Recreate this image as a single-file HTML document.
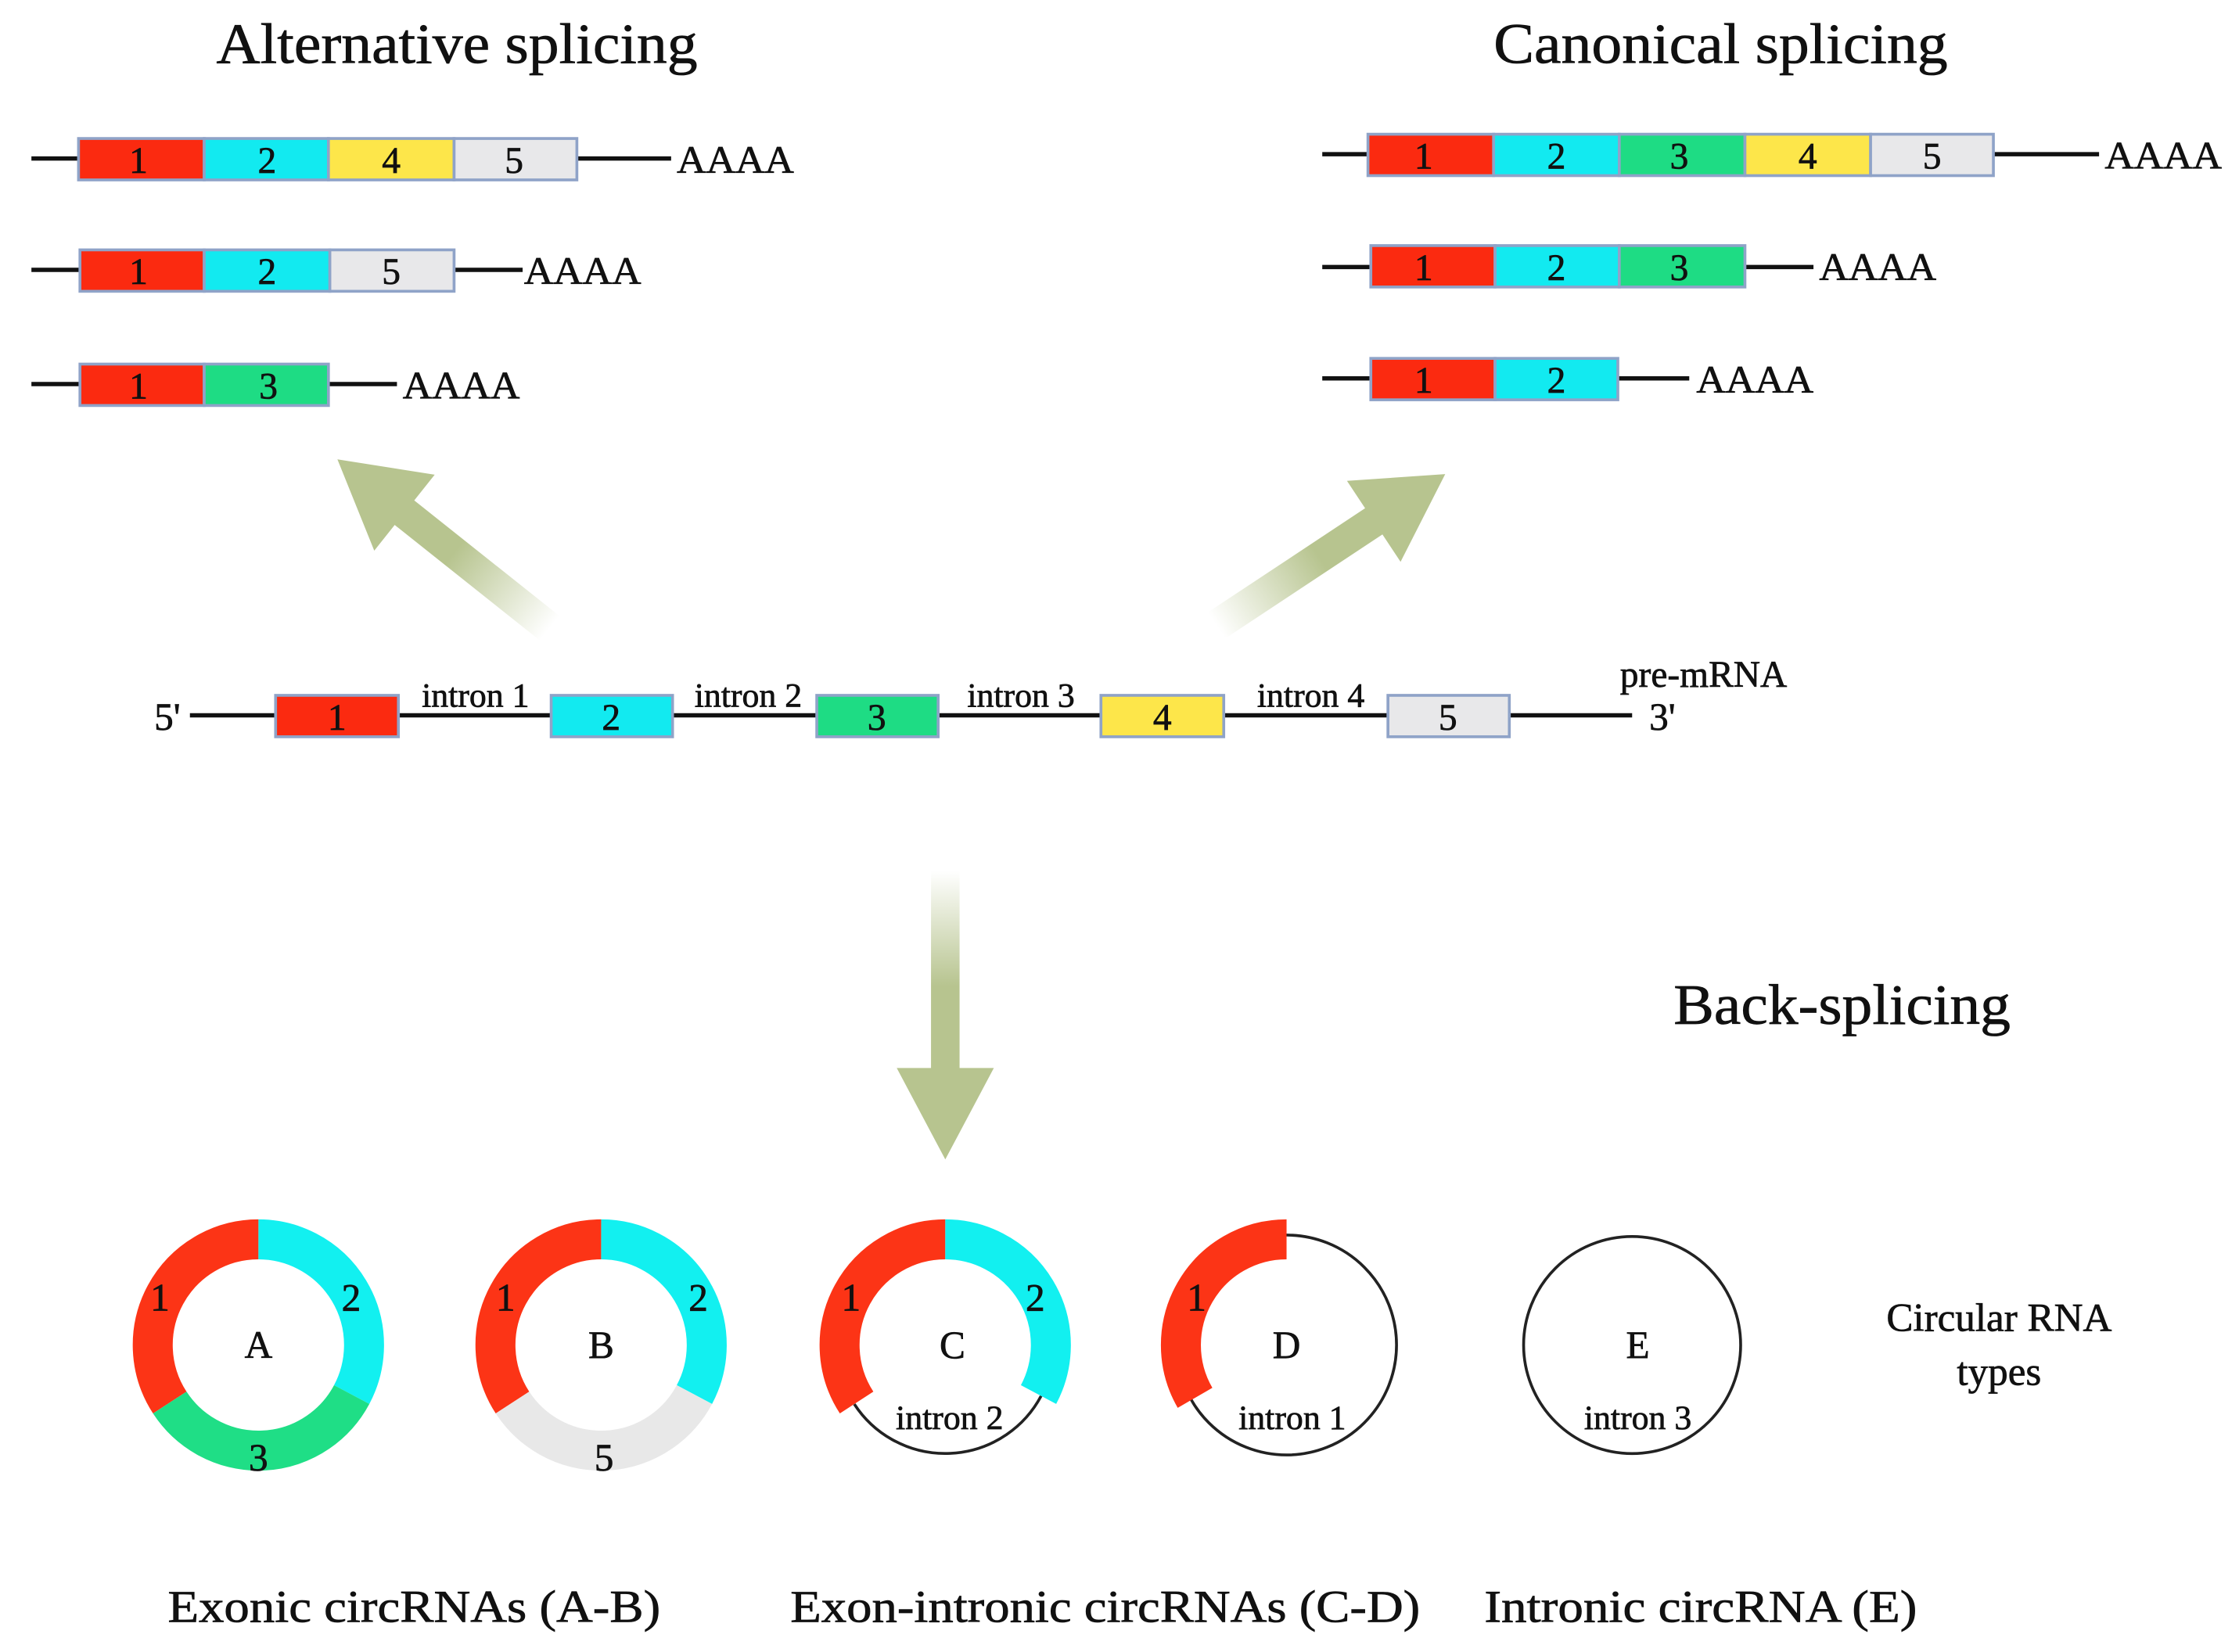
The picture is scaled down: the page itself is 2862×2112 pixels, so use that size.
<!DOCTYPE html>
<html><head><meta charset="utf-8"><style>
html,body{margin:0;padding:0;background:#fff}
svg{display:block}
text{font-family:"Liberation Serif",serif;fill:#111;stroke:#111;stroke-width:0.4}
</style></head><body>
<svg width="2862" height="2112" viewBox="0 0 1568 1157" preserveAspectRatio="none" xmlns="http://www.w3.org/2000/svg">
<defs>
<linearGradient id="ga" x1="0" y1="0" x2="1" y2="0">
<stop offset="0" stop-color="#b7c48f" stop-opacity="0"/>
<stop offset="0.45" stop-color="#b7c48f" stop-opacity="1"/>
<stop offset="1" stop-color="#b7c48f"/>
</linearGradient>
<linearGradient id="gd" x1="0" y1="0" x2="0" y2="1">
<stop offset="0" stop-color="#b7c48f" stop-opacity="0"/>
<stop offset="0.4" stop-color="#b7c48f" stop-opacity="1"/>
<stop offset="1" stop-color="#b7c48f"/>
</linearGradient>
</defs>
<rect width="1568" height="1157" fill="#fff"/>

<text x="320" y="44" font-size="40" text-anchor="middle" textLength="337" lengthAdjust="spacingAndGlyphs">Alternative splicing</text>
<text x="1205" y="44" font-size="40" text-anchor="middle" textLength="318" lengthAdjust="spacingAndGlyphs">Canonical splicing</text>
<text x="1290" y="717" font-size="40" text-anchor="middle" textLength="236" lengthAdjust="spacingAndGlyphs">Back-splicing</text>

<g stroke="#111" stroke-width="3">
<line x1="22" y1="111" x2="55" y2="111"/><line x1="404" y1="111" x2="470" y2="111"/>
<line x1="22" y1="189" x2="56" y2="189"/><line x1="318" y1="189" x2="366" y2="189"/>
<line x1="22" y1="269" x2="56" y2="269"/><line x1="230" y1="269" x2="278" y2="269"/>
<line x1="926" y1="108" x2="958" y2="108"/><line x1="1396" y1="108" x2="1470" y2="108"/>
<line x1="926" y1="187" x2="960" y2="187"/><line x1="1222" y1="187" x2="1270" y2="187"/>
<line x1="926" y1="265" x2="960" y2="265"/><line x1="1133" y1="265" x2="1183" y2="265"/>
<line x1="133" y1="501" x2="1143" y2="501"/>
</g>

<g stroke="#8fa3c8" stroke-width="2">
<rect x="55" y="97" width="88" height="29" fill="#fb2a10"/>
<rect x="143" y="97" width="87" height="29" fill="#12eaf0"/>
<rect x="230" y="97" width="88" height="29" fill="#fde64a"/>
<rect x="318" y="97" width="86" height="29" fill="#e8e8ea"/>
<rect x="56" y="175" width="87" height="29" fill="#fb2a10"/>
<rect x="143" y="175" width="88" height="29" fill="#12eaf0"/>
<rect x="231" y="175" width="87" height="29" fill="#e8e8ea"/>
<rect x="56" y="255" width="87" height="29" fill="#fb2a10"/>
<rect x="143" y="255" width="87" height="29" fill="#1edc84"/>
<rect x="958" y="94" width="88" height="29" fill="#fb2a10"/>
<rect x="1046" y="94" width="88" height="29" fill="#12eaf0"/>
<rect x="1134" y="94" width="88" height="29" fill="#1edc84"/>
<rect x="1222" y="94" width="88" height="29" fill="#fde64a"/>
<rect x="1310" y="94" width="86" height="29" fill="#e8e8ea"/>
<rect x="960" y="172" width="87" height="29" fill="#fb2a10"/>
<rect x="1047" y="172" width="87" height="29" fill="#12eaf0"/>
<rect x="1134" y="172" width="88" height="29" fill="#1edc84"/>
<rect x="960" y="251" width="87" height="29" fill="#fb2a10"/>
<rect x="1047" y="251" width="86" height="29" fill="#12eaf0"/>
<rect x="193" y="487" width="86" height="29" fill="#fb2a10"/>
<rect x="386" y="487" width="85" height="29" fill="#12eaf0"/>
<rect x="572" y="487" width="85" height="29" fill="#1edc84"/>
<rect x="771" y="487" width="86" height="29" fill="#fde64a"/>
<rect x="972" y="487" width="85" height="29" fill="#e8e8ea"/>
</g>

<g font-size="26" text-anchor="middle">
<text x="97" y="121">1</text><text x="187" y="121">2</text><text x="274" y="121">4</text><text x="360" y="121">5</text>
<text x="97" y="199">1</text><text x="187" y="199">2</text><text x="274" y="199">5</text>
<text x="97" y="279">1</text><text x="188" y="279">3</text>
<text x="997" y="118">1</text><text x="1090" y="118">2</text><text x="1176" y="118">3</text><text x="1266" y="118">4</text><text x="1353" y="118">5</text>
<text x="997" y="196">1</text><text x="1090" y="196">2</text><text x="1176" y="196">3</text>
<text x="997" y="275">1</text><text x="1090" y="275">2</text>
<text x="236" y="511">1</text><text x="428" y="511">2</text><text x="614" y="511">3</text><text x="814" y="511">4</text><text x="1014" y="511">5</text>
</g>
<g font-size="27">
<text x="474" y="121" textLength="82" lengthAdjust="spacingAndGlyphs">AAAA</text>
<text x="367" y="199" textLength="82" lengthAdjust="spacingAndGlyphs">AAAA</text>
<text x="282" y="279" textLength="82" lengthAdjust="spacingAndGlyphs">AAAA</text>
<text x="1474" y="118" textLength="82" lengthAdjust="spacingAndGlyphs">AAAA</text>
<text x="1274" y="196" textLength="82" lengthAdjust="spacingAndGlyphs">AAAA</text>
<text x="1188" y="275" textLength="82" lengthAdjust="spacingAndGlyphs">AAAA</text>
<text x="108" y="511">5'</text>
<text x="1155" y="511">3'</text>
</g>
<g font-size="24" text-anchor="middle">
<text x="333" y="495">intron 1</text>
<text x="524" y="495">intron 2</text>
<text x="715" y="495">intron 3</text>
<text x="918" y="495">intron 4</text>
<text x="1193" y="481" font-size="26">pre-mRNA</text>
</g>

<g transform="translate(385,440) rotate(218.5)">
<polygon points="0,-11 130,-11 130,-34 190,0 130,34 130,11 0,11" fill="url(#ga)"/>
</g>
<g transform="translate(852,438) rotate(-33.5)">
<polygon points="0,-11 132,-11 132,-34 192,0 132,34 132,11 0,11" fill="url(#ga)"/>
</g>
<polygon points="652,610 672,610 672,748 696,748 662,812 628,748 652,748" fill="url(#gd)"/>

<g fill="none" stroke-width="28">
<g transform="translate(181,942)">
<path d="M0,-74 A74,74 0 0 0 -62.1,40.3" stroke="#fc3416"/>
<path d="M0,-74 A74,74 0 0 1 65.3,34.7" stroke="#12f0f0"/>
<path d="M65.3,34.7 A74,74 0 0 1 -62.1,40.3" stroke="#1fde86"/>
</g>
<g transform="translate(421,942)">
<path d="M0,-74 A74,74 0 0 0 -62.1,40.3" stroke="#fc3416"/>
<path d="M0,-74 A74,74 0 0 1 65.3,34.7" stroke="#12f0f0"/>
<path d="M65.3,34.7 A74,74 0 0 1 -62.1,40.3" stroke="#e8e8e8"/>
</g>
<g transform="translate(662,942)">
<path d="M67.1,35.7 A76,76 0 0 1 -63.7,41.4" stroke="#222" stroke-width="2"/>
<path d="M0,-74 A74,74 0 0 0 -62.1,40.3" stroke="#fc3416"/>
<path d="M0,-74 A74,74 0 0 1 65.3,34.7" stroke="#12f0f0"/>
</g>
<g transform="translate(901,942)">
<circle r="77" stroke="#222" stroke-width="2"/>
<path d="M0,-74 A74,74 0 0 0 -64.1,37" stroke="#fc3416"/>
</g>
<circle cx="1143" cy="942" r="76" stroke="#222" stroke-width="2"/>
</g>

<g font-size="27" text-anchor="middle">
<text x="112" y="918">1</text><text x="246" y="918">2</text><text x="181" y="1030">3</text><text x="181" y="951">A</text>
<text x="354" y="918">1</text><text x="489" y="918">2</text><text x="423" y="1030">5</text><text x="421" y="951">B</text>
<text x="596" y="918">1</text><text x="725" y="918">2</text><text x="667" y="951">C</text>
<text x="838" y="918">1</text><text x="901" y="951">D</text>
<text x="1147" y="951">E</text>
</g>
<g font-size="24" text-anchor="middle">
<text x="665" y="1001">intron 2</text>
<text x="905" y="1001">intron 1</text>
<text x="1147" y="1001">intron 3</text>
</g>
<g font-size="28" text-anchor="middle">
<text x="1400" y="932">Circular RNA</text>
<text x="1400" y="970">types</text>
</g>
<g font-size="32" text-anchor="middle">
<text x="290" y="1136" textLength="345" lengthAdjust="spacingAndGlyphs">Exonic circRNAs (A-B)</text>
<text x="774" y="1136" textLength="441" lengthAdjust="spacingAndGlyphs">Exon-intronic circRNAs (C-D)</text>
<text x="1191" y="1136" textLength="303" lengthAdjust="spacingAndGlyphs">Intronic circRNA (E)</text>
</g>
</svg>
</body></html>
